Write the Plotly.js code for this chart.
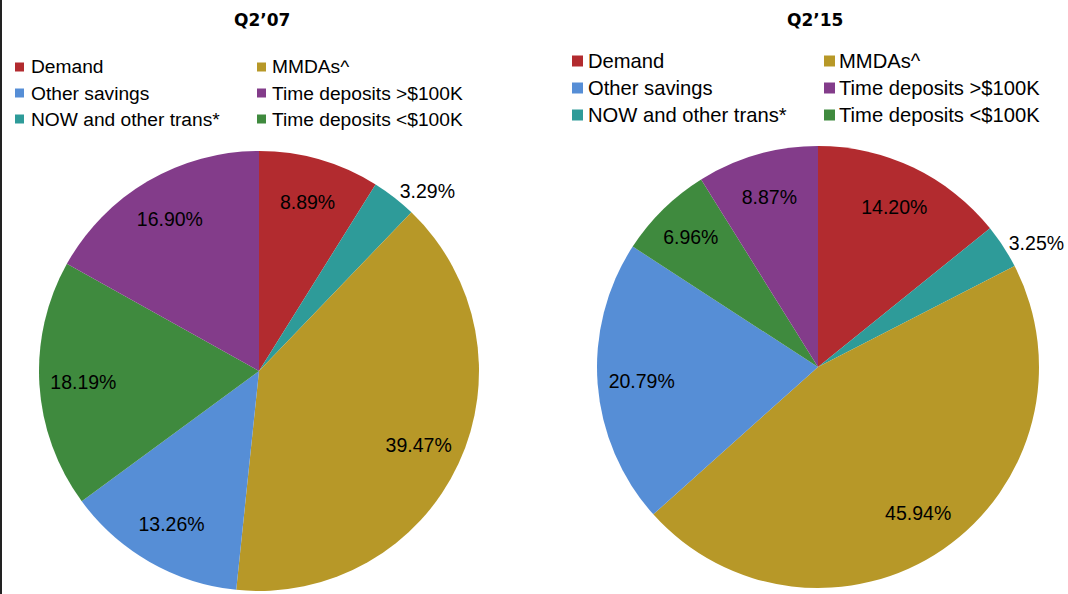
<!DOCTYPE html>
<html>
<head>
<meta charset="utf-8">
<script src="https://cdn.plot.ly/plotly-3.0.1.min.js"></script>
<style>
  html, body { margin: 0; padding: 0; background: #ffffff; }
  #chart { width: 1068px; height: 594px; }
</style>
</head>
<body>
<div id="chart"></div>
<script>
// ---- Data ----
// Slice order (clockwise from 12 o'clock)
const sliceLabels = ["Demand", "NOW and other trans*", "MMDAs^", "Other savings", "Time deposits <$100K", "Time deposits >$100K"];
const values2007 = [8.89, 3.29, 39.47, 13.26, 18.19, 16.90];
const values2015 = [14.20, 3.25, 45.94, 20.79, 6.96, 8.87];
const chartTitles = ["Q2\u201907", "Q2\u201915"];
// Legend order (row-major, two columns)
const legendLabels = ["Demand", "MMDAs^", "Other savings", "Time deposits >$100K", "NOW and other trans*", "Time deposits <$100K"];

// ---- Styles ----
const colorMap = {
  "Demand": "#B22B2F",
  "NOW and other trans*": "#2E9B99",
  "MMDAs^": "#B79828",
  "Other savings": "#568ED6",
  "Time deposits <$100K": "#3F8A3E",
  "Time deposits >$100K": "#833C8A"
};
const sliceColors = sliceLabels.map(l => colorMap[l]);
const W = 1068, H = 594;
const px = v => v / W;
const py = v => 1 - v / H;
const labelFont = { family: "Liberation Sans, Arial, sans-serif", size: 19.5, color: "#000000" };

// Filled pie (no text)
function pieTrace(vals, dom) {
  return {
    type: "pie",
    labels: sliceLabels,
    values: vals,
    sort: false,
    direction: "clockwise",
    rotation: 0,
    marker: { colors: sliceColors, line: { width: 0 } },
    textinfo: "none",
    hoverinfo: "label+percent",
    showlegend: false,
    domain: dom
  };
}
// Transparent ring over the pie that carries the value labels (places them in the outer part)
function labelRing(vals, dom) {
  return {
    type: "pie",
    labels: sliceLabels,
    values: vals,
    sort: false,
    direction: "clockwise",
    rotation: 0,
    hole: 0.6,
    marker: { colors: sliceLabels.map(() => "rgba(0,0,0,0)"), line: { width: 0 } },
    texttemplate: "%{value:.2f}%",
    textposition: vals.map(v => v < 5 ? "outside" : "inside"),
    insidetextorientation: "horizontal",
    textfont: labelFont,
    insidetextfont: labelFont,
    outsidetextfont: labelFont,
    hoverinfo: "skip",
    showlegend: false,
    domain: dom
  };
}

const dom07 = { x: [px(39), px(479)], y: [py(591), py(151)] };
const dom15 = { x: [px(597), px(1039)], y: [py(588), py(146)] };
const data = [
  pieTrace(values2007, dom07),
  pieTrace(values2015, dom15),
  labelRing(values2007, dom07),
  labelRing(values2015, dom15)
];

// ---- Manual legends & titles ----
const shapes = [
  { type: "line", xref: "paper", yref: "paper", x0: px(1), x1: px(1), y0: 0, y1: 1,
    line: { color: "#222222", width: 2 } }
];
const annotations = [];

const legendSpecs = [
  { sq: 9, cols: [15, 257], textX: [31, 272], rows: [67, 93, 119], size: 19.2 },
  { sq: 11, cols: [572, 824], textX: [588, 839], rows: [61, 88, 115], size: 20.2 }
];
legendSpecs.forEach(spec => {
  legendLabels.forEach((lab, i) => {
    const r = Math.floor(i / 2), c = i % 2;
    const yc = spec.rows[r];
    shapes.push({
      type: "rect", xref: "paper", yref: "paper",
      x0: px(spec.cols[c]), x1: px(spec.cols[c] + spec.sq),
      y0: py(yc + spec.sq / 2), y1: py(yc - spec.sq / 2),
      fillcolor: colorMap[lab], line: { width: 0 }
    });
    annotations.push({
      xref: "paper", yref: "paper", x: px(spec.textX[c] - 2), y: py(yc),
      xanchor: "left", yanchor: "middle", showarrow: false, text: lab,
      font: { family: "Liberation Sans, Arial, sans-serif", size: spec.size, color: "#000000" }
    });
  });
});

[[262, 20], [815, 20]].forEach((p, i) => {
  annotations.push({
    xref: "paper", yref: "paper", x: px(p[0]), y: py(p[1]),
    xanchor: "center", yanchor: "middle", showarrow: false,
    text: "<b>" + chartTitles[i] + "</b>",
    font: { family: "DejaVu Sans, sans-serif", size: 17, color: "#000000" }
  });
});

const layout = {
  width: W, height: H,
  margin: { l: 0, r: 0, t: 0, b: 0 },
  paper_bgcolor: "#ffffff",
  showlegend: false,
  shapes: shapes,
  annotations: annotations
};

Plotly.newPlot("chart", data, layout, { displayModeBar: false, staticPlot: true });
</script>
</body>
</html>
